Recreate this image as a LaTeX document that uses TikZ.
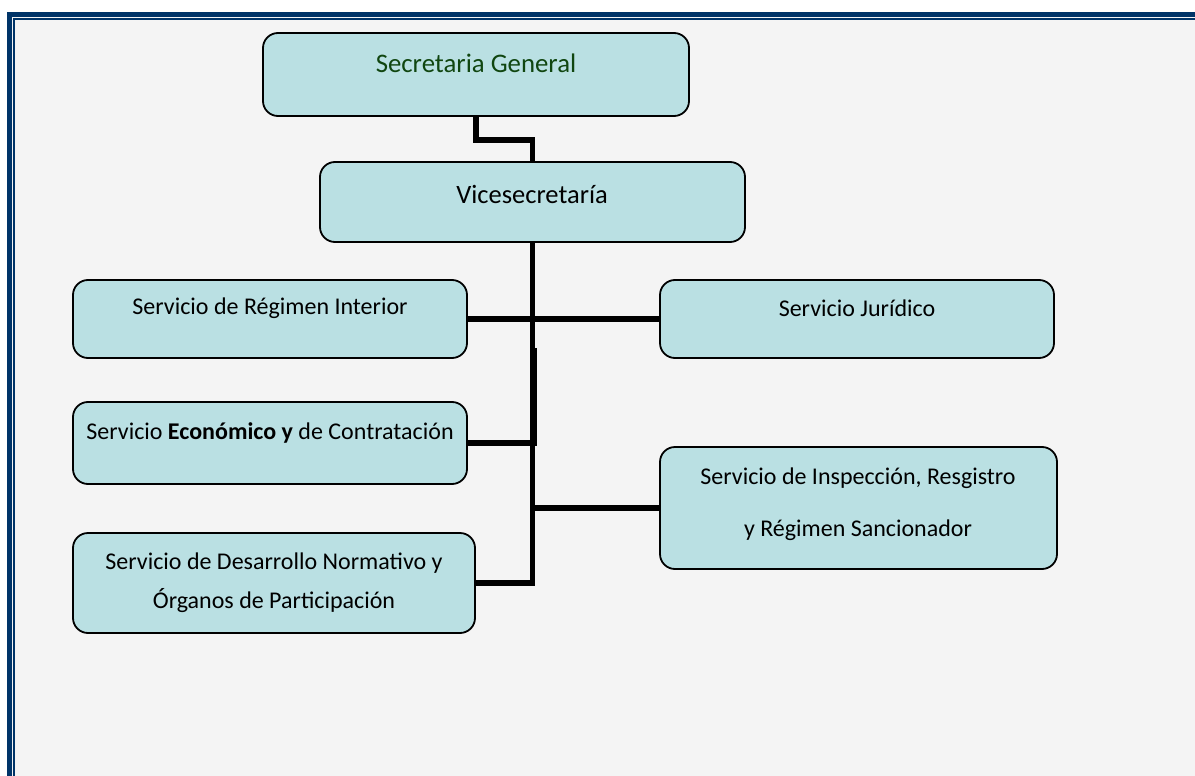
\documentclass[tikz,border=0pt]{standalone}
\usepackage{fontspec}
\setmainfont{Carlito}
\definecolor{boxfill}{RGB}{186,224,227}
\definecolor{bggray}{RGB}{244,244,244}
\definecolor{framblue}{RGB}{0,52,104}
\definecolor{sggreen}{RGB}{16,70,16}
\begin{document}
\begin{tikzpicture}[x=1pt,y=-1pt,
  orgbox/.style={draw=black,line width=1.8pt,fill=boxfill,rounded corners=15pt,inner sep=0pt},
  orgtext/.style={inner sep=0pt,align=center,text=black,font=\fontsize{24}{39}\selectfont},
  link/.style={draw=black,line width=5.5pt,line join=miter}]
\useasboundingbox (0,0) rectangle (1195,776);
\begin{scope}
\clip (0,0) rectangle (1195,776);
\fill[white] (0,0) rectangle (1195,776);
\fill[bggray] (12,17) rectangle (1300,900);
\draw[framblue,line width=4.4pt] (9.5,14.5) rectangle (1300,900);
\draw[framblue,line width=1.6pt] (13.9,19.2) rectangle (1300,900);
\end{scope}
% boxes
\node[orgbox,minimum width=426pt,minimum height=83pt] (sg) at (476,74.5) {};
\node[orgbox,minimum width=425pt,minimum height=80pt] (vice) at (532.5,202) {};
\node[orgbox,minimum width=394pt,minimum height=78pt] (ri) at (270,319) {};
\node[orgbox,minimum width=394pt,minimum height=78pt] (jur) at (857,319) {};
\node[orgbox,minimum width=394pt,minimum height=82pt] (eco) at (270,443) {};
\node[orgbox,minimum width=397pt,minimum height=122pt] (insp) at (858.5,508) {};
\node[orgbox,minimum width=402pt,minimum height=100pt] (des) at (274,583) {};
% texts
\node[orgtext,text=sggreen,font=\fontsize{26.8}{30}\selectfont] (tsg) at (476,63) {Secretaria General};
\node[orgtext,font=\fontsize{26.5}{30}\selectfont] (tvice) at (532,194) {Vicesecretaría};
\node[orgtext] (tri) at (270,308) {Servicio de Régimen Interior};
\node[orgtext] (tjur) at (857,308) {Servicio Jurídico};
\node[orgtext] (teco) at (270,433) {Servicio \textbf{Económico y} de Contratación};
\node[orgtext,font=\fontsize{24}{52}\selectfont] (tinsp) at (858,504) {Servicio de Inspección, Resgistro\\y Régimen Sancionador};
\node[orgtext] (tdes) at (274,582.5) {Servicio de Desarrollo Normativo y\\Órganos de Participación};
% connectors
\coordinate (ecotop) at (534.5,348);
\draw[link] (sg.south) -- ++(0,23) -| (vice.north);
\draw[link] (vice.south) |- (des.east);
\draw[link] (ri.east) -- (jur.west);
\draw[link] (eco.east) -| (ecotop);
\draw[link] (insp.west) -- (insp.west -| vice.south);
\end{tikzpicture}
\end{document}
